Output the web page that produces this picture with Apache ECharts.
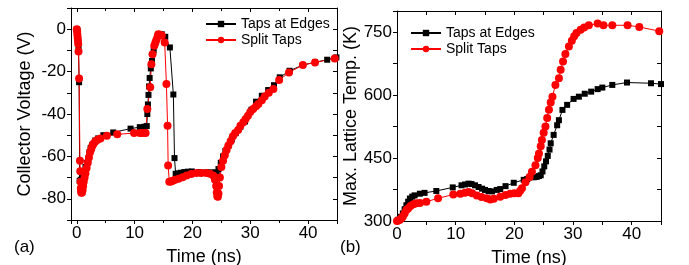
<!DOCTYPE html>
<html lang="en">
<head>
    <meta charset="UTF-8">
    <title>Collector voltage and lattice temperature</title>
    <script src="https://cdn.jsdelivr.net/npm/echarts@6/dist/echarts.min.js"></script>
    <style>
        html, body { margin: 0; padding: 0; background: #fff; }
        #main { width: 689px; height: 265px; }
    </style>
</head>
<body>
<div id="main"></div>
<script>
    // (a) collector voltage, Taps at Edges
    const tA_edge = [0, 0.1, 0.2, 0.3, 0.4, 0.5, 0.7, 0.9, 1.2, 1.5, 1.8, 2.0, 2.2, 2.4, 2.7, 3.2, 3.7, 4.6, 6.3, 9.3,
        10.9, 11.7, 12.1, 12.2, 12.3, 12.4, 12.5, 12.6, 12.8, 13.0, 13.3, 13.6, 14.1, 14.7, 15.3, 16.1, 16.7, 16.9, 17.1, 17.5,
        18.0, 18.6, 19.2, 19.9, 21.2, 22.4, 23.3, 24.2, 24.5, 24.9, 25.3, 25.7, 26.2, 26.8, 27.5, 28.3, 29.1, 30.2, 31.0, 32.0,
        33.1, 34.1, 35.1, 36.8, 39.1, 41.2, 43.3, 44.9];
    const vA_edge = [0, -0.5, -2, -8.6, -25, -71.5, -71, -69, -67, -65, -63, -61, -58, -56, -54.5, -52.5, -51.5, -50, -48.7, -46.9,
        -46.2, -46, -45.7, -40, -35.5, -31, -27, -23, -18.5, -15, -10, -6.3, -2.8, -2.4, -3.6, -8.6, -30.8, -60.8, -68.2, -68,
        -67.7, -67.4, -67.2, -67.1, -67.4, -67.5, -67.5, -67.5, -66, -63, -60, -57.5, -55, -52, -49, -46, -43.5, -38, -34.2, -31.4,
        -28.7, -26.4, -22.7, -19.6, -16.9, -15.6, -14.4, -13.3];

    // (a) collector voltage, Split Taps
    const tA_split = [0, 0.05, 0.1, 0.15, 0.2, 0.25, 0.3, 0.4, 0.55, 0.6, 0.65, 0.7, 0.75, 0.8, 0.9, 1.0, 1.1, 1.2, 1.35, 1.5,
        1.7, 1.9, 2.1, 2.3, 2.5, 2.7, 2.9, 3.2, 3.6, 4.1, 5.2, 7.0, 9.9, 10.9, 11.4, 11.9, 12.2, 12.7, 12.9, 13.1,
        13.4, 13.6, 13.8, 14.0, 14.1, 14.4, 14.7, 15.2, 15.5, 15.7, 15.8, 16.0, 16.3, 16.6, 17.0, 17.6, 18.3, 19.0, 19.8, 20.7,
        21.5, 22.4, 23.0, 23.6, 23.9, 24.1, 24.2, 24.3, 24.4, 24.5, 24.6, 24.75, 25.0, 25.3, 25.6, 25.9, 26.2, 26.6, 27.0, 27.4,
        27.9, 28.3, 28.8, 29.2, 29.6, 30.0, 30.5, 31.0, 31.4, 32.0, 32.5, 33.2, 34.0, 35.0, 36.7, 39.1, 41.2, 44.6];
    const vA_split = [0, -1, -2.5, -4, -5.5, -7, -10.5, -23.2, -62, -67, -72, -75, -76.5, -77.2, -77, -76, -74, -72, -70, -68,
        -65.5, -63, -60.5, -58, -56.5, -55, -54, -53, -52.2, -51.6, -50.3, -49.6, -49, -49, -49, -49, -37.6, -27.4, -16.5, -11.8,
        -7.8, -6.3, -4.9, -3.2, -2.4, -2.6, -3, -6.3, -25.9, -45.5, -64.3, -72, -71.8, -71.5, -71, -70.6, -69.8, -69, -68.3, -67.8,
        -67.8, -67.8, -68.2, -69, -71, -74, -77, -78.8, -79, -77.5, -74, -70, -65, -62, -59.5, -57, -55, -52.8, -50.5, -49,
        -47.5, -45.5, -43.9, -42.3, -40.8, -39, -37.6, -36.4, -35.3, -33.5, -31.7, -30, -28.2, -24, -20.4, -16.9, -15.7, -13.8];

    // (b) max lattice temperature, Taps at Edges
    const tB_edge = [0, 0.2, 0.6, 1.0, 1.3, 1.6, 1.9, 2.2, 2.6, 3.0, 3.9, 4.7, 6.7, 9.5, 11.0, 11.6, 12.2, 12.7, 13.3, 13.9,
        14.5, 15.0, 15.6, 16.2, 17.0, 17.6, 18.5, 19.9, 21.6, 22.2, 23.3, 23.8, 24.2, 24.5, 24.8, 25.1, 25.4, 25.7, 26.0, 26.2,
        26.7, 27.3, 27.6, 28.2, 29.0, 30.1, 31.0, 32.0, 33.1, 34.2, 35.0, 36.7, 39.2, 43.3, 45.0];
    const TB_edge = [300, 303, 310, 318, 328, 337.5, 346, 353.5, 358, 361, 365, 367, 371.5, 380, 385, 387, 389, 388, 385, 381,
        377, 374, 371.5, 370.5, 374, 376, 383, 391, 398, 400, 404, 405, 407, 409, 418, 430, 442, 455, 470, 485,
        505, 528, 540, 564.5, 576.5, 590.7, 596, 603, 608, 614, 617.7, 624, 629.7, 628, 626];

    // (b) max lattice temperature, Split Taps
    const tB_split = [0, 0.2, 0.5, 0.8, 1.0, 1.3, 1.6, 1.9, 2.3, 2.8, 3.3, 3.9, 5.0, 7.0, 9.6, 10.8, 11.6, 12.2, 12.8, 13.6,
        14.4, 15.3, 15.9, 16.5, 17.6, 18.5, 19.3, 20.0, 20.7, 21.0, 21.3, 21.9, 22.6, 23.0, 23.6, 24.0, 24.2, 24.5, 24.7, 25.0,
        25.3, 25.6, 25.9, 26.2, 26.5, 27.0, 27.6, 27.9, 28.3, 28.7, 29.3, 29.8, 30.2, 30.6, 31.3, 31.9, 32.7, 34.2, 35.2, 36.7,
        39.3, 41.3, 44.7];
    const TB_split = [300, 301, 303, 307, 311, 318, 326, 330, 336, 340, 342, 343, 346, 354, 363, 365, 367, 369, 366, 361,
        357, 354, 351, 353, 358, 362, 365, 366, 366, 372, 378, 392, 405, 417, 433, 450, 461, 478, 493, 510,
        525, 545, 565, 582, 596, 624, 640, 660, 680, 697.5, 715.7, 729, 740, 747.7, 755.6, 761, 766, 770, 766, 766,
        766, 762, 752];

    const seriesNames = ['Taps at Edges', 'Split Taps'];

    const FONT = 'Liberation Sans, Arial, sans-serif';
    const pair = (xs, ys) => xs.map((x, i) => [x, ys[i]]);

    const chart = echarts.init(document.getElementById('main'), null, {renderer: 'canvas'});

    // bottom/left axes carry labels, top/right are plain mirrors
    function xAxisFor(grid, pos, min, max, interval, title) {
        const ax = {
            type: 'value', gridIndex: grid, position: pos, min: min, max: max,
            axisLine: {show: true, onZero: false, lineStyle: {color: '#000', width: 1}},
            axisTick: {show: true, inside: pos === 'top', length: 4, lineStyle: {color: '#000'}},
            minorTick: {show: interval == null, splitNumber: 2, length: 3, lineStyle: {color: '#000'}},
            splitLine: {show: false},
            axisLabel: {show: pos === 'bottom', color: '#000', fontFamily: FONT, fontSize: 17, margin: 5,
                formatter: v => (v % 10 === 0 ? String(v) : '')}
        };
        if (interval != null) ax.interval = interval;
        if (title) {
            ax.name = title; ax.nameLocation = 'middle'; ax.nameGap = 28;
            ax.nameTextStyle = {color: '#000', fontFamily: FONT, fontSize: 18, fontWeight: 'normal'};
        }
        return ax;
    }

    function yAxisFor(grid, pos, min, max, interval, labelStep, title) {
        const ax = {
            type: 'value', gridIndex: grid, position: pos, min: min, max: max, interval: interval,
            axisLine: {show: true, onZero: false, lineStyle: {color: '#000', width: 1}},
            axisTick: {show: true, inside: pos === 'right', length: 4, lineStyle: {color: '#000'}},
            splitLine: {show: false},
            axisLabel: {show: pos === 'left', color: '#000', fontFamily: FONT, fontSize: 17, margin: 5,
                formatter: v => ((v - labelStep.base) % labelStep.step === 0 ? String(v) : '')}
        };
        if (title) {
            ax.name = title; ax.nameLocation = 'middle'; ax.nameGap = 37;
            ax.nameTextStyle = {color: '#000', fontFamily: FONT, fontSize: 18, fontWeight: 'normal'};
        }
        return ax;
    }

    function lineSeries(name, data, xi, yi, color, symbol, size) {
        return {
            name: name, type: 'line', data: data, xAxisIndex: xi, yAxisIndex: yi,
            symbol: symbol, symbolSize: size, showSymbol: true, showAllSymbol: true,
            lineStyle: {color: color, width: 1}, itemStyle: {color: color},
            clip: true
        };
    }

    function legendAt(left, top) {
        return {
            data: seriesNames, orient: 'vertical', left: left, top: top,
            itemWidth: 30, itemHeight: 8, itemGap: 2,
            textStyle: {color: '#000', fontFamily: FONT, fontSize: 14, fontWeight: 'normal'},
            selectedMode: false
        };
    }

    const option = {
        animation: false,
        backgroundColor: '#fff',
        grid: [
            {left: 71, top: 8, width: 266, height: 212, containLabel: false, outerBoundsMode: 'none'},
            {left: 397, top: 11, width: 264, height: 210, containLabel: false, outerBoundsMode: 'none'}
        ],
        legend: [legendAt(200, 12), legendAt(405, 21)],
        xAxis: [
            xAxisFor(0, 'bottom', -1, 45, null, 'Time (ns)'),
            xAxisFor(0, 'top', -1, 45, null, null),
            xAxisFor(1, 'bottom', 0, 45, 5, 'Time (ns)'),
            xAxisFor(1, 'top', 0, 45, 5, null)
        ],
        yAxis: [
            yAxisFor(0, 'left', -90, 10, 10, {base: 0, step: 20}, 'Collector Voltage (V)'),
            yAxisFor(0, 'right', -90, 10, 10, {base: 0, step: 20}, null),
            yAxisFor(1, 'left', 300, 800, 75, {base: 300, step: 150}, 'Max. Lattice Temp. (K)'),
            yAxisFor(1, 'right', 300, 800, 75, {base: 300, step: 150}, null)
        ],
        graphic: [
            {type: 'text', left: 14, top: 239, style: {text: '(a)', fill: '#000', font: '17px ' + FONT}},
            {type: 'text', left: 340, top: 239, style: {text: '(b)', fill: '#000', font: '17px ' + FONT}}
        ],
        series: [
            lineSeries('Taps at Edges', pair(tA_edge, vA_edge), 0, 0, '#000', 'rect', 6),
            lineSeries('Split Taps', pair(tA_split, vA_split), 0, 0, '#ff0000', 'circle', 8),
            lineSeries('Taps at Edges', pair(tB_edge, TB_edge), 2, 2, '#000', 'rect', 6),
            lineSeries('Split Taps', pair(tB_split, TB_split), 2, 2, '#ff0000', 'circle', 8)
        ]
    };

    chart.setOption(option);
</script>
</body>
</html>
